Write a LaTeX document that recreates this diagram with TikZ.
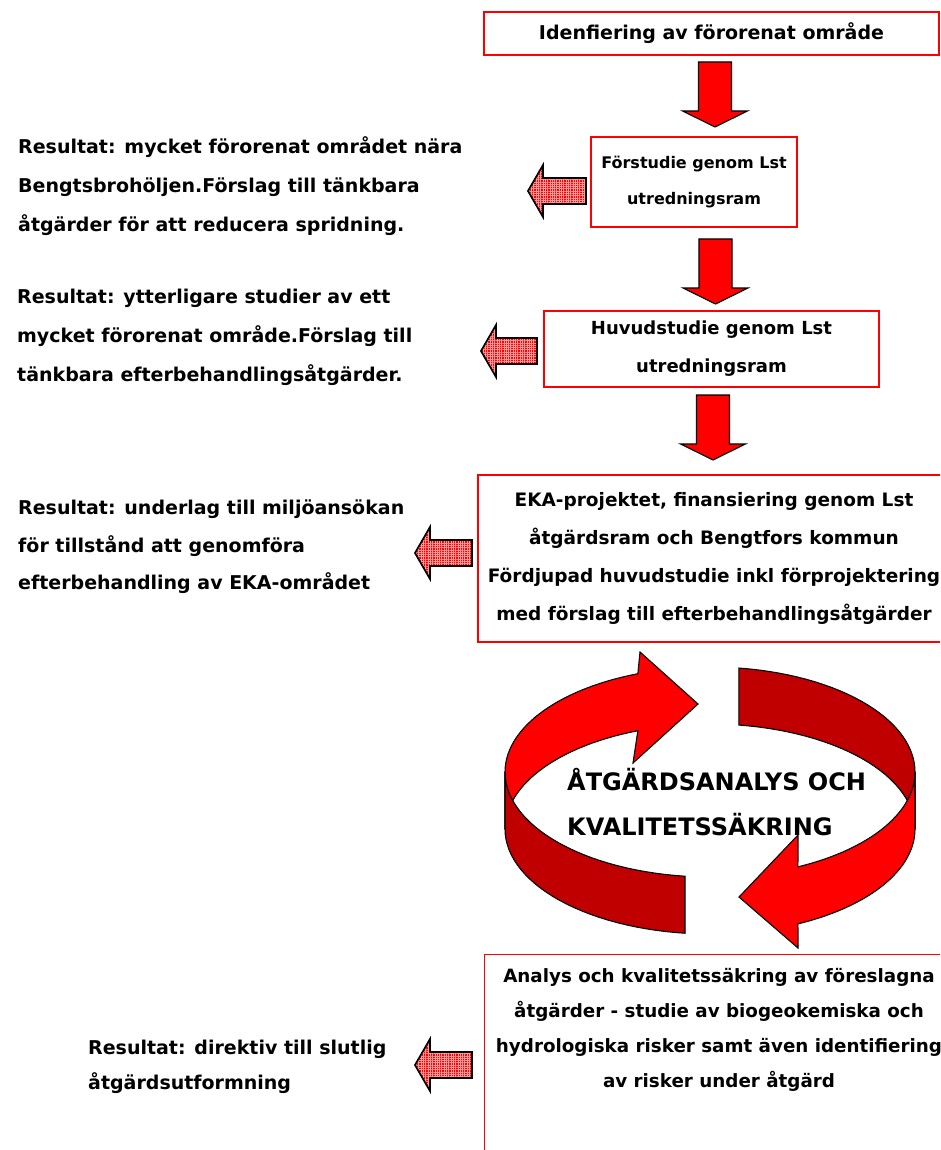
\documentclass[tikz,border=0pt]{standalone}
\usepackage{fontspec}
\setmainfont{DejaVu Sans}
\usetikzlibrary{patterns.meta}

\definecolor{ringlight}{HTML}{FF0000}
\definecolor{ringdark}{HTML}{C00000}
\definecolor{gridpink}{HTML}{FF9A9A}

\tikzset{
  stepbox/.style={draw=red, line width=1.3pt, inner sep=0pt, align=center,
    font=\bfseries\fontsize{19}{38}\selectfont},
  result/.style={anchor=north west, inner sep=0pt, align=left,
    font=\bfseries\fontsize{19}{39}\selectfont},
  downblock/.style={draw=black, line width=1.1pt, fill=red},
  leftblock/.style={draw=black, line width=1.7pt, preaction={fill=red},
    pattern={Hatch[angle=0,distance=2.3pt,line width=0.35pt]}, pattern color=gridpink},
  bandlight/.style={draw=black, line width=1.1pt, fill=ringlight},
  banddark/.style={draw=black, line width=1.1pt, fill=ringdark},
}

% ring of the two bent arrows
\def\rcx{710}
\def\rcy{772}
\def\rch{57}
\def\rrx{205}
\def\rry{105}

\begin{document}
\begin{tikzpicture}[x=1pt,y=-1pt]
	\useasboundingbox (0,0) rectangle (940,1150);
	\clip (0,0) rectangle (940,1150);

	% steps on the right
	\node[stepbox, minimum width=455, minimum height=43] (ident) at (711.5,33.5) {Idenfiering av förorenat område};
	\node[stepbox, minimum width=206, minimum height=90, font=\bfseries\fontsize{16}{36}\selectfont] (forstudie) at (694,182) {Förstudie genom Lst\\utredningsram};
	\node[stepbox, minimum width=335, minimum height=76, font=\bfseries\fontsize{18}{38}\selectfont] (huvudstudie) at (711.5,349) {Huvudstudie genom Lst\\utredningsram};
	\node[stepbox, minimum width=472, minimum height=167, font=\bfseries\fontsize{18.5}{38}\selectfont] (eka) at (714,558.5) {EKA-projektet, finansiering genom Lst\\åtgärdsram och Bengtfors kommun\\Fördjupad huvudstudie inkl förprojektering\\med förslag till efterbehandlingsåtgärder};
	\node[stepbox, minimum width=474, minimum height=230, anchor=north west] (analys) at (484,954) {};
	\node[stepbox, draw=none, font=\bfseries\fontsize{18.3}{35}\selectfont] (analystext) at (719,1030) {Analys och kvalitetssäkring av föreslagna\\åtgärder - studie av biogeokemiska och\\hydrologiska risker samt även identifiering\\av risker under åtgärd};

	% results on the left
	\node[result] (res1) at (18,136) {Resultat: mycket förorenat området nära\\Bengtsbrohöljen.Förslag till tänkbara\\åtgärder för att reducera spridning.};
	\node[result] (res2) at (17,289) {Resultat: ytterligare studier av ett\\mycket förorenat område.Förslag till\\tänkbara efterbehandlingsåtgärder.};
	\node[result, font=\bfseries\fontsize{19}{37.5}\selectfont] (res3) at (18,500) {Resultat: underlag till miljöansökan\\för tillstånd att genomföra\\efterbehandling av EKA-området};
	\node[result, font=\bfseries\fontsize{19}{35}\selectfont] (res4) at (88,1040) {Resultat: direktiv till slutlig\\åtgärdsutformning};

	% block arrows
	\foreach \ax/\ay in {715/62, 715.5/239, 713/395}
		\draw[downblock] (\ax-16.5,\ay) -- (\ax+16.5,\ay) -- (\ax+16.5,\ay+49) -- (\ax+32.5,\ay+49)
			-- (\ax,\ay+65) -- (\ax-32.5,\ay+49) -- (\ax-16.5,\ay+49) -- cycle;
	\foreach \tx/\ty/\len in {528/191/58, 481/351/56, 415/553/57, 415/1065/57}
		\draw[leftblock] (\tx,\ty) -- (\tx+15,\ty-26) -- (\tx+15,\ty-13) -- (\tx+\len,\ty-13)
			-- (\tx+\len,\ty+13) -- (\tx+15,\ty+13) -- (\tx+15,\ty+26) -- cycle;

	% back halves of the ring
	\draw[bandlight] plot[domain=180:249.4,samples=30] ({\rcx+\rrx*cos(\x)},{\rcy+\rry*sin(\x)})
		-- (640,652) -- (698,704) -- (633,763)
		-- plot[domain=249.4:180,samples=30] ({\rcx+\rrx*cos(\x)},{\rcy+\rch+\rry*sin(\x)}) -- cycle;
	\draw[banddark] plot[domain=278.1:360,samples=30] ({\rcx+\rrx*cos(\x)},{\rcy+\rry*sin(\x)})
		-- plot[domain=360:278.1,samples=30] ({\rcx+\rrx*cos(\x)},{\rcy+\rch+\rry*sin(\x)}) -- cycle;
	% front halves
	\draw[banddark] plot[domain=97:180,samples=30] ({\rcx+\rrx*cos(\x)},{\rcy+\rry*sin(\x)})
		-- plot[domain=180:97,samples=30] ({\rcx+\rrx*cos(\x)},{\rcy+\rch+\rry*sin(\x)}) -- cycle;
	\draw[bandlight] plot[domain=0:64.6,samples=30] ({\rcx+\rrx*cos(\x)},{\rcy+\rry*sin(\x)})
		-- (798,835) -- (739,897) -- (798,948)
		-- plot[domain=64.6:0,samples=30] ({\rcx+\rrx*cos(\x)},{\rcy+\rch+\rry*sin(\x)}) -- cycle;

	\node[anchor=north west, inner sep=0pt, align=left, font=\bfseries\fontsize{24}{45}\selectfont] (loop) at (567,768) {ÅTGÄRDSANALYS OCH\\KVALITETSSÄKRING};
\end{tikzpicture}
\end{document}
